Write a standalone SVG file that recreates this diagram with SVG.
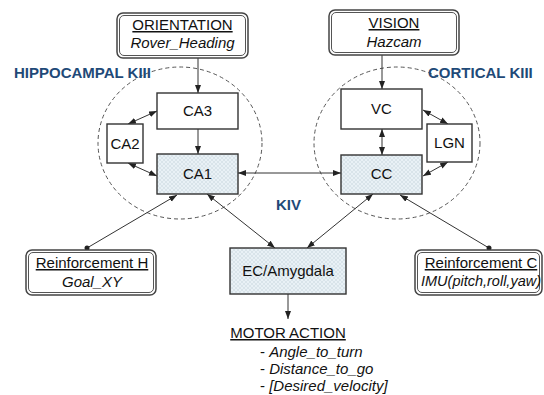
<svg xmlns="http://www.w3.org/2000/svg" width="544" height="395" viewBox="0 0 544 395">
<defs>
<pattern id="hatch" width="4" height="4" patternUnits="userSpaceOnUse">
<rect width="4" height="4" fill="#e9f1f6"/>
<path d="M0,0 L4,4 M4,0 L0,4" stroke="#cfdbe3" stroke-width="0.6"/>
</pattern>
<marker id="ah" markerUnits="userSpaceOnUse" markerWidth="9" markerHeight="7" refX="8" refY="3" orient="auto-start-reverse">
<path d="M0,0 L8,3 L0,6 z" fill="#222"/>
</marker>
<style>
.t{font-family:"Liberation Sans",Arial,sans-serif;font-size:15px;fill:#111;text-anchor:middle}
.i{font-style:italic}
.u{text-decoration:underline}
.lbl{font-family:"Liberation Sans",Arial,sans-serif;font-size:15px;font-weight:bold;fill:#1f4a78}
.box{fill:#fff;stroke:#333;stroke-width:1.4}
.sh{fill:url(#hatch);stroke:#333;stroke-width:1.4}
.dbl{fill:#fff;stroke:#444;stroke-width:1.5}
.dbl2{fill:none;stroke:#555;stroke-width:1}
.ell{fill:none;stroke:#555;stroke-width:1;stroke-dasharray:4,3}
.c{stroke:#333;stroke-width:1;fill:none}
.a{marker-end:url(#ah)}
.b{marker-start:url(#ah);marker-end:url(#ah)}
</style>
</defs>
<ellipse class="ell" cx="180" cy="143" rx="82" ry="76"/>
<ellipse class="ell" cx="397" cy="143" rx="83" ry="76"/>
<g id="connectors">
<line class="c a" x1="198" y1="58" x2="198" y2="93"/>
<line class="c a" x1="198" y1="129" x2="198" y2="154"/>
<line class="c b" x1="128" y1="124" x2="157" y2="111"/>
<line class="c b" x1="128" y1="163" x2="157" y2="176"/>
<line class="c a" x1="382" y1="55" x2="382" y2="89"/>
<line class="c b" x1="382" y1="129" x2="382" y2="155"/>
<line class="c b" x1="423" y1="110" x2="448" y2="124"/>
<line class="c b" x1="448" y1="162" x2="423" y2="176"/>
<line class="c b" x1="238" y1="173" x2="341" y2="173"/>
<line class="c b" x1="207" y1="194" x2="275" y2="248"/>
<line class="c b" x1="373" y1="194" x2="307" y2="248"/>
<line class="c a" x1="87" y1="248" x2="177" y2="195"/>
<circle cx="87" cy="248" r="2.5" fill="#222"/>
<line class="c a" x1="489" y1="248" x2="400" y2="195"/>
<circle cx="489" cy="248" r="2.5" fill="#222"/>
<line class="c a" x1="288" y1="294" x2="288" y2="319"/>
</g>
<g id="orientation">
<rect class="dbl" x="117" y="13" width="131" height="45" rx="6"/>
<rect class="dbl2" x="119.5" y="15.5" width="126" height="40" rx="4.5"/>
<text class="t u" x="182.5" y="30">ORIENTATION</text>
<text class="t i" x="182.5" y="48">Rover_Heading</text>
</g>
<g id="vision">
<rect class="dbl" x="329" y="10" width="130" height="45" rx="6"/>
<rect class="dbl2" x="331.5" y="12.5" width="125" height="40" rx="4.5"/>
<text class="t u" x="394" y="28">VISION</text>
<text class="t i" x="394" y="47">Hazcam</text>
</g>
<text class="lbl" x="14" y="78">HIPPOCAMPAL KIII</text>
<text class="lbl" x="428" y="78">CORTICAL KIII</text>
<text class="lbl" x="276" y="210">KIV</text>
<g id="ca3"><rect class="box" x="157" y="93" width="81" height="36"/><text class="t" x="197.5" y="116">CA3</text></g>
<g id="ca2"><rect class="box" x="107" y="124" width="36" height="39"/><text class="t" x="125" y="149">CA2</text></g>
<g id="ca1"><rect class="sh" x="157" y="154" width="81" height="40"/><text class="t" x="197.5" y="179">CA1</text></g>
<g id="vc"><rect class="box" x="341" y="89" width="81" height="40"/><text class="t" x="381.5" y="114">VC</text></g>
<g id="lgn"><rect class="box" x="427" y="124" width="45" height="38"/><text class="t" x="449.5" y="148">LGN</text></g>
<g id="cc"><rect class="sh" x="341" y="155" width="81" height="39"/><text class="t" x="381.5" y="179">CC</text></g>
<g id="ec"><rect class="sh" x="230" y="248" width="116" height="46"/><text class="t" x="288" y="276">EC/Amygdala</text></g>
<g id="reinfH">
<rect class="dbl" x="26" y="250" width="130" height="45" rx="6"/>
<rect class="dbl2" x="28.5" y="252.5" width="125" height="40" rx="4.5"/>
<text class="t u" x="92" y="268">Reinforcement H</text>
<text class="t i" x="92" y="287">Goal_XY</text>
</g>
<g id="reinfC">
<rect class="dbl" x="415" y="250" width="127" height="45" rx="6"/>
<rect class="dbl2" x="417.5" y="252.5" width="122" height="40" rx="4.5"/>
<text class="t u" x="481" y="268">Reinforcement C</text>
<text class="t i" x="481" y="286" style="font-size:14.5px">IMU(pitch,roll,yaw)</text>
</g>
<g id="motor">
<text class="t u" x="288" y="338">MOTOR ACTION</text>
<text class="t" x="260" y="357" style="text-anchor:start">- <tspan class="i">Angle_to_turn</tspan></text>
<text class="t" x="260" y="374" style="text-anchor:start">- <tspan class="i">Distance_to_go</tspan></text>
<text class="t" x="260" y="391" style="text-anchor:start">- <tspan class="i">[Desired_velocity]</tspan></text>
</g>
</svg>
